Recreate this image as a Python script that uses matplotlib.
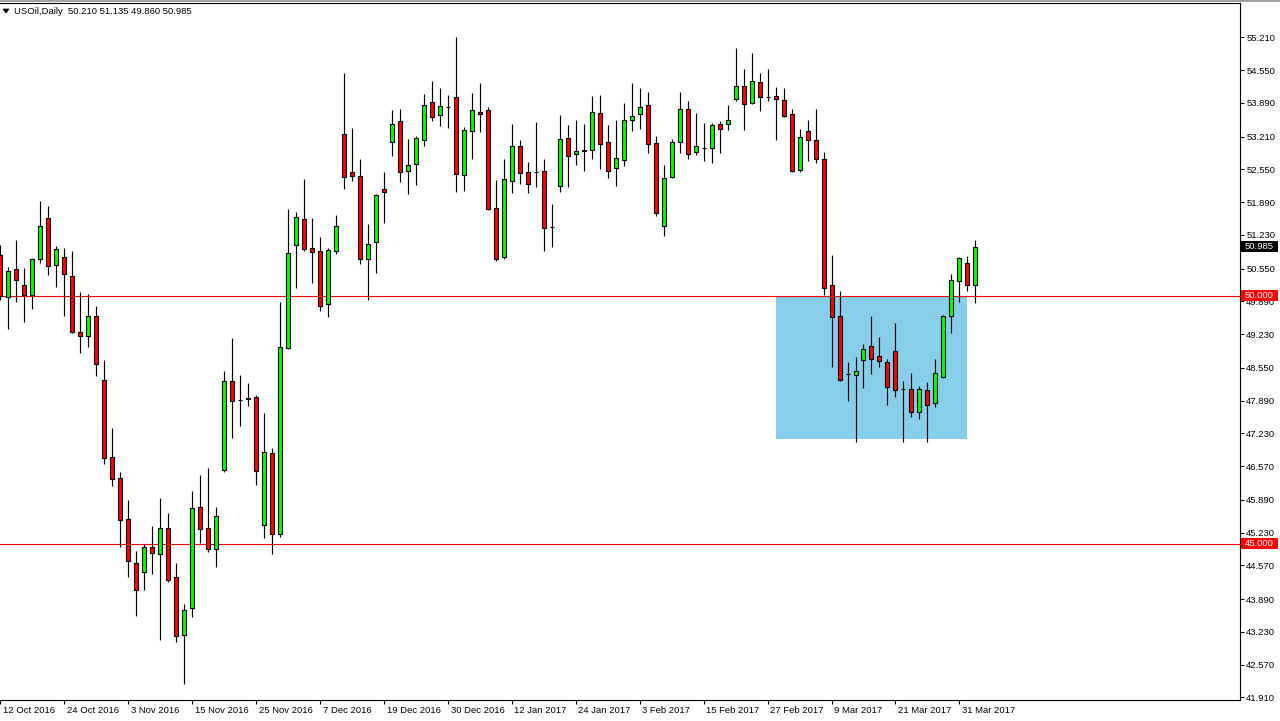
import matplotlib
matplotlib.use('Agg')
import matplotlib.pyplot as plt
import numpy as np
from matplotlib.patches import Rectangle, Polygon

plt.rcParams['font.family'] = ['Liberation Sans', 'DejaVu Sans']

# ---------------- data ----------------
opens = [50.82, 49.97, 50.55, 50.21, 50.02, 50.74, 51.56, 50.62, 50.78, 50.41,
         49.27, 49.20, 49.59, 48.30, 46.75, 46.32, 45.50, 44.61, 44.43, 44.93,
         44.79, 45.32, 44.34, 43.17, 43.71, 45.75, 45.32, 44.89, 46.49, 48.29,
         47.91, 47.93, 47.97, 45.38, 46.84, 45.20, 48.95, 51.03, 51.55, 50.97,
         50.91, 49.83, 50.90, 53.26, 52.49, 52.41, 50.75, 51.08, 52.15, 53.11,
         53.52, 52.51, 52.65, 53.15, 53.90, 53.64, 53.80, 54.00, 52.43, 53.32,
         53.70, 53.74, 51.78, 50.78, 52.31, 53.01, 52.49, 52.50, 52.51, 51.39,
         52.21, 53.19, 52.85, 52.92, 52.93, 53.68, 53.11, 52.57, 52.73, 53.54,
         53.66, 53.84, 53.09, 51.40, 52.39, 53.11, 53.76, 52.89, 52.97, 52.97,
         53.46, 53.46, 53.96, 54.22, 53.88, 54.30, 54.00, 54.02, 53.94, 53.66,
         52.54, 53.32, 53.15, 52.75, 50.21, 49.59, 48.42, 48.41, 48.71, 48.98,
         48.78, 48.66, 48.88, 48.13, 48.12, 47.65, 48.10, 47.85, 48.37, 49.59,
         50.29, 50.66, 50.210]
highs = [51.02, 50.58, 51.13, 50.56, 50.76, 51.91, 51.81, 51.00, 50.96, 50.90,
         50.08, 50.04, 49.80, 48.71, 47.34, 46.45, 45.89, 44.86, 45.00, 45.36,
         45.93, 45.62, 44.61, 43.78, 46.06, 46.38, 46.54, 45.75, 48.48, 49.16,
         48.40, 48.24, 48.00, 47.63, 46.94, 49.87, 51.76, 51.69, 52.36, 51.56,
         51.18, 50.96, 51.63, 54.49, 53.38, 52.76, 51.45, 52.05, 52.50, 53.75,
         53.77, 53.16, 53.22, 54.07, 54.33, 54.19, 54.05, 55.22, 53.40, 54.09,
         54.28, 53.81, 52.33, 52.76, 53.46, 53.14, 52.69, 53.50, 52.75, 51.85,
         53.64, 53.44, 53.54, 53.46, 54.03, 54.05, 53.44, 53.54, 53.89, 54.29,
         54.18, 54.10, 53.22, 52.63, 53.17, 54.10, 53.92, 53.68, 53.48, 53.48,
         53.52, 53.84, 54.99, 54.57, 54.89, 54.49, 54.57, 54.20, 54.19, 53.77,
         53.36, 53.54, 53.77, 52.90, 50.82, 50.10, 48.67, 48.77, 49.03, 49.59,
         49.17, 48.72, 49.45, 48.28, 48.44, 48.18, 48.26, 48.72, 49.61, 50.44,
         50.78, 50.80, 51.135]
lows = [49.92, 49.34, 49.88, 49.48, 49.74, 50.67, 50.43, 50.18, 49.60, 49.26,
        48.85, 48.97, 48.39, 46.61, 46.17, 44.94, 44.34, 43.55, 44.08, 44.40,
        43.07, 44.24, 43.02, 42.18, 43.53, 45.01, 44.84, 44.53, 46.45, 47.13,
        47.37, 47.78, 46.19, 45.12, 44.79, 45.15, 48.93, 50.16, 50.90, 50.26,
        49.69, 49.57, 50.84, 52.16, 52.32, 50.65, 49.92, 50.47, 51.47, 52.82,
        52.30, 52.06, 52.24, 53.01, 53.53, 53.43, 53.39, 52.10, 52.12, 52.76,
        53.31, 51.74, 50.70, 50.74, 52.08, 52.25, 52.08, 52.20, 50.90, 50.99,
        52.10, 52.20, 52.64, 52.52, 52.76, 52.56, 52.38, 52.22, 52.62, 53.33,
        53.37, 52.88, 51.60, 51.20, 52.37, 52.87, 52.75, 52.83, 52.71, 52.67,
        52.87, 53.34, 53.92, 53.34, 53.86, 53.72, 53.92, 53.15, 53.61, 52.50,
        52.50, 52.72, 52.68, 50.02, 48.57, 48.29, 47.89, 47.06, 48.15, 48.42,
        48.57, 47.81, 47.97, 47.06, 47.56, 47.52, 47.06, 47.77, 48.35, 49.26,
        49.88, 50.09, 49.860]
closes = [50.00, 50.51, 50.31, 50.02, 50.74, 51.40, 50.60, 50.94, 50.45, 49.28,
          49.20, 49.59, 48.62, 46.74, 46.31, 45.48, 44.65, 44.08, 44.93, 44.81,
          45.32, 44.27, 43.14, 43.67, 45.73, 45.30, 44.89, 45.57, 48.29, 47.88,
          47.90, 47.95, 46.48, 46.86, 45.20, 48.97, 50.87, 51.59, 50.95, 50.89,
          49.80, 50.93, 51.40, 52.39, 52.42, 50.74, 51.04, 52.03, 52.09, 53.46,
          52.49, 52.63, 53.19, 53.84, 53.60, 53.82, 53.80, 52.45, 53.34, 53.74,
          53.66, 51.76, 50.74, 52.35, 53.01, 52.47, 52.25, 52.50, 51.36, 51.39,
          53.17, 52.81, 52.91, 52.93, 53.70, 53.07, 52.51, 52.77, 53.54, 53.62,
          53.80, 53.07, 51.66, 52.37, 53.11, 53.76, 52.85, 53.01, 52.97, 53.44,
          53.36, 53.54, 54.22, 53.86, 54.34, 54.00, 54.00, 53.96, 53.63, 52.52,
          53.21, 53.15, 52.76, 50.16, 49.58, 48.31, 48.42, 48.48, 48.92, 48.73,
          48.69, 48.16, 48.11, 48.13, 47.65, 48.12, 47.81, 48.44, 49.59, 50.31,
          50.76, 50.21, 50.985]

date_labels = ["12 Oct 2016", "24 Oct 2016", "3 Nov 2016", "15 Nov 2016",
               "25 Nov 2016", "7 Dec 2016", "19 Dec 2016", "30 Dec 2016",
               "12 Jan 2017", "24 Jan 2017", "3 Feb 2017", "15 Feb 2017",
               "27 Feb 2017", "9 Mar 2017", "21 Mar 2017", "31 Mar 2017"]
bars_per_label = 8

price_ticks = [55.210, 54.550, 53.890, 53.210, 52.550, 51.890, 51.230, 50.550,
               49.890, 49.230, 48.550, 47.890, 47.230, 46.570, 45.890, 45.230,
               44.570, 43.890, 43.230, 42.570, 41.910]

levels = [50.000, 45.000]
zone_bars = [97, 121]
zone_prices = [47.115, 49.98]
symbol = "USOil,Daily"
current_price = closes[-1]

# ---------------- figure ----------------
W, H = 1280, 721
fig = plt.figure(figsize=(W / 100, H / 100), dpi=100)
fig.patch.set_facecolor('white')
ax = fig.add_axes([0, 21 / H, 1240 / W, 697 / H])
ax.set_facecolor('white')

n = len(opens)
x = np.arange(n)
o = np.array(opens); c = np.array(closes)

ax.add_patch(Rectangle((zone_bars[0], zone_prices[0]), zone_bars[1] - zone_bars[0],
                       zone_prices[1] - zone_prices[0], facecolor='#87CEEB',
                       edgecolor='none', zorder=1))
for lv in levels:
    ax.axhline(lv, color='#FF0000', lw=0.8, zorder=2)

ax.vlines(x, lows, highs, color='black', lw=0.85, zorder=3)
body_colors = ['#00FF00' if cc >= oo else '#FF0000' for oo, cc in zip(o, c)]
ax.bar(x, c - o, bottom=o, width=0.5, color=body_colors, edgecolor='black',
       linewidth=0.8, zorder=4)

ax.set_xlim(0.0875, 155.09)
ax.set_ylim(41.855, 55.902)

for side in ['left']:
    ax.spines[side].set_visible(False)
for side in ['top', 'right', 'bottom']:
    ax.spines[side].set_color('black')
    ax.spines[side].set_linewidth(0.8)

ax.yaxis.tick_right()
ax.set_yticks(price_ticks)
ax.set_yticklabels([f"{v:.3f}" for v in price_ticks])
ax.tick_params(axis='y', direction='out', length=3, width=0.75, labelsize=6.8,
               pad=1.5, colors='black')

tick_pos = [i * bars_per_label for i in range(len(date_labels))]
ax.set_xticks(tick_pos)
ax.set_xticklabels([])
ax.tick_params(axis='x', direction='out', length=3, width=0.75)
for pos, lab in zip(tick_pos, date_labels):
    ax.annotate(lab, xy=(pos, 0), xycoords=('data', 'axes fraction'),
                xytext=(2.0, -7.8), textcoords='offset points', ha='left',
                va='center', fontsize=6.8, color='black', annotation_clip=False)

# title
fig.add_artist(Polygon([[3 / W, 1 - 9 / H], [9 / W, 1 - 9 / H], [6 / W, 1 - 13 / H]],
                       closed=True, transform=fig.transFigure, facecolor='black',
                       edgecolor='black', lw=0.5))
fig.text(14 / W, 1 - 11.5 / H,
         f"{symbol}  {opens[-1]:.3f} {highs[-1]:.3f} {lows[-1]:.3f} {closes[-1]:.3f}",
         fontsize=6.8, va='center', ha='left', color='black')
fig.add_artist(Rectangle((0, 1 - 2 / H), 1, 2 / H, transform=fig.transFigure,
                         facecolor='#A0A0A0', edgecolor='none'))

# price boxes on the axis
fig.canvas.draw()
def price_box(value, color):
    yd = ax.transData.transform((0, value))[1]
    fig.add_artist(Rectangle((1241 / W, (yd - 5.5) / H), 37 / W, 11 / H,
                             transform=fig.transFigure, facecolor=color,
                             edgecolor='none', zorder=5))
    fig.text(1245 / W, yd / H, f"{value:.3f}", color='white', fontsize=6.8,
             va='center', ha='left', zorder=6)

for lv in levels:
    price_box(lv, '#FF0000')
price_box(current_price, 'black')

fig.savefig('out.png', dpi=100)
